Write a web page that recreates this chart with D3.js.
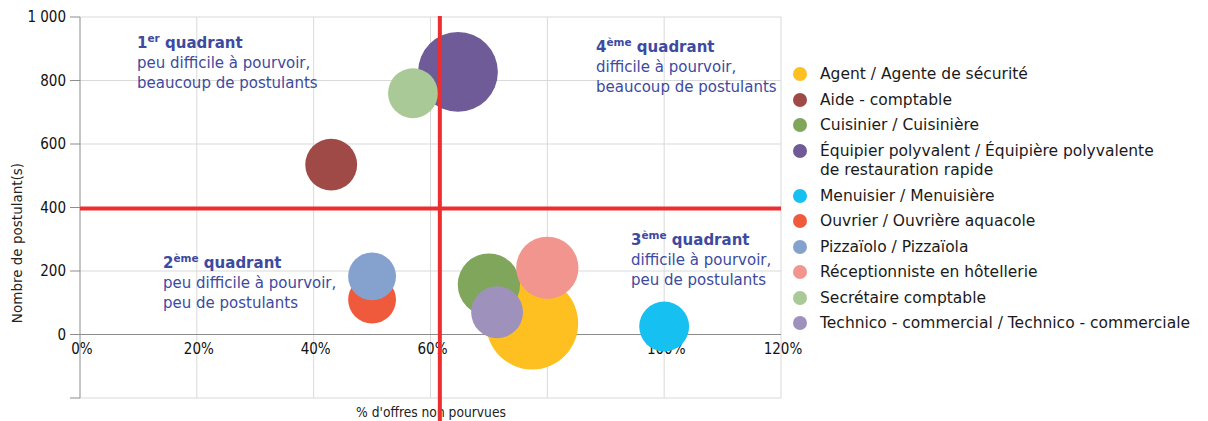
<!DOCTYPE html>
<html lang="fr">

<head>
    <meta charset="UTF-8">
    <script src="https://d3js.org/d3.v7.min.js"></script>
    <title>Métiers en tension</title>
    <style>
        body { margin: 0; background: #fff; }
        svg { display: block; }
        .grid line { stroke: #d9d9d9; stroke-width: 1; }
        .tick-label { font-family: "DejaVu Sans Condensed", "Liberation Sans Narrow", sans-serif; font-stretch: condensed; font-size: 15px; fill: #111; }
        .axis-title { font-family: "DejaVu Sans", sans-serif; font-size: 13.5px; fill: #222; }
        .x-title { font-family: "DejaVu Sans Condensed", sans-serif; font-stretch: condensed; font-size: 13.7px; fill: #222; }
        .legend text { font-family: "DejaVu Sans", sans-serif; font-size: 15.5px; fill: #1a1a1a; }
        .quadrant { font-family: "DejaVu Sans", sans-serif; font-size: 15px; fill: #3d4aa0; }
    </style>
</head>

<body>
    <div id="chart"></div>
    <script>
        // Data
        const metiers = [
            "Agent / Agente de sécurité",
            "Aide - comptable",
            "Cuisinier / Cuisinière",
            "Équipier polyvalent / Équipière polyvalente|de restauration rapide",
            "Menuisier / Menuisière",
            "Ouvrier / Ouvrière aquacole",
            "Pizzaïolo / Pizzaïola",
            "Réceptionniste en hôtellerie",
            "Secrétaire comptable",
            "Technico - commercial / Technico - commerciale"
        ];
        const tauxNonPourvues = [0.774, 0.43, 0.70, 0.647, 1.00, 0.50, 0.50, 0.80, 0.57, 0.714];
        const postulants = [35, 535, 157, 827, 25, 110, 183, 210, 760, 70];
        const offres = [85, 27, 39, 64, 25, 23, 23, 39, 25, 27];
        const couleurs = ["#fdc020", "#a04a48", "#7fa65a", "#6f5b98", "#16c0f0",
            "#f05a3c", "#85a2ce", "#f3958f", "#a9ca96", "#9e92bc"];

        const xTicks = [0, 0.2, 0.4, 0.6, 0.8, 1.0, 1.2];
        const yTicks = [0, 200, 400, 600, 800, 1000];
        const seuilTaux = 0.616;
        const seuilPostulants = 397;

        const data = metiers.map((m, i) => ({
            nom: m, taux: tauxNonPourvues[i], post: postulants[i],
            offres: offres[i], couleur: couleurs[i], idx: i
        }));

        const width = 1208, height = 421;

        const svg = d3.select("#chart").append("svg")
            .attr("width", width)
            .attr("height", height);

        // Scales
        const x = d3.scaleLinear().domain([0, 1.2]).range([80, 781]);
        const y = d3.scaleLinear().domain([-200, 1000]).range([398, 17]);
        const r = d3.scaleSqrt().domain([0, d3.max(offres)]).range([0, 46]);

        // Gridlines
        const grid = svg.append("g").attr("class", "grid");
        grid.selectAll(".gx")
            .data(xTicks.slice(1))
            .join("line")
            .attr("x1", d => x(d)).attr("x2", d => x(d))
            .attr("y1", y(1000)).attr("y2", y(-200));
        grid.selectAll(".gy")
            .data(yTicks.slice(1))
            .join("line")
            .attr("x1", x(0)).attr("x2", x(1.2))
            .attr("y1", d => y(d)).attr("y2", d => y(d));
        grid.append("line")
            .attr("x1", x(0)).attr("x2", x(1.2))
            .attr("y1", y(-200)).attr("y2", y(-200))
            .attr("stroke", "#c8c8c8");

        // Axes
        svg.append("line")
            .attr("x1", x(0)).attr("x2", x(0))
            .attr("y1", y(1000)).attr("y2", y(-200))
            .attr("stroke", "#8c8c8c");
        svg.append("line")
            .attr("x1", x(0)).attr("x2", x(1.2))
            .attr("y1", y(0)).attr("y2", y(0))
            .attr("stroke", "#8c8c8c");
        svg.selectAll(".ytick")
            .data([-200, ...yTicks])
            .join("line")
            .attr("x1", x(0) - 10).attr("x2", x(0))
            .attr("y1", d => y(d)).attr("y2", d => y(d))
            .attr("stroke", "#8c8c8c");

        const fmtY = d => d3.format(",")(d).replace(",", " ");
        svg.selectAll(".ylab")
            .data(yTicks)
            .join("text")
            .attr("class", "tick-label")
            .attr("x", 66)
            .attr("y", d => y(d))
            .attr("dy", "0.36em")
            .attr("text-anchor", "end")
            .text(fmtY);

        svg.selectAll(".xlab")
            .data(xTicks)
            .join("text")
            .attr("class", "tick-label")
            .attr("x", d => x(d) + 2)
            .attr("y", y(0) + 14)
            .attr("dy", "0.36em")
            .attr("text-anchor", "middle")
            .text(d3.format(".0%"));

        // Axis titles
        svg.append("text")
            .attr("class", "axis-title")
            .attr("transform", `translate(22,${243}) rotate(-90)`)
            .attr("text-anchor", "middle")
            .text("Nombre de postulant(s)");
        svg.append("text")
            .attr("class", "x-title")
            .attr("x", 431)
            .attr("y", 417)
            .attr("text-anchor", "middle")
            .text("% d'offres non pourvues");

        // Bubbles, largest first
        const sorted = data.slice().sort((a, b) => d3.descending(a.offres, b.offres) || a.idx - b.idx);
        svg.append("g")
            .selectAll("circle")
            .data(sorted)
            .join("circle")
            .attr("cx", d => x(d.taux))
            .attr("cy", d => y(d.post))
            .attr("r", d => r(d.offres))
            .attr("fill", d => d.couleur);

        // Quadrant lines
        svg.append("line")
            .attr("x1", x(0)).attr("x2", x(1.2))
            .attr("y1", y(seuilPostulants)).attr("y2", y(seuilPostulants))
            .attr("stroke", "#ee2e2e").attr("stroke-width", 4);
        svg.append("line")
            .attr("x1", x(seuilTaux)).attr("x2", x(seuilTaux))
            .attr("y1", y(1000) - 1).attr("y2", height)
            .attr("stroke", "#ee2e2e").attr("stroke-width", 4);

        // Quadrant labels
        const quadrants = [
            { n: "1", sup: "er", l1: "peu difficile à pourvoir,", l2: "beaucoup de postulants", x: 137, y: 48 },
            { n: "2", sup: "ème", l1: "peu difficile à pourvoir,", l2: "peu de postulants", x: 163, y: 268 },
            { n: "3", sup: "ème", l1: "difficile à pourvoir,", l2: "peu de postulants", x: 631, y: 245 },
            { n: "4", sup: "ème", l1: "difficile à pourvoir,", l2: "beaucoup de postulants", x: 596, y: 52 }
        ];
        quadrants.forEach(q => {
            const t = svg.append("text").attr("class", "quadrant").attr("x", q.x).attr("y", q.y);
            t.append("tspan").attr("font-weight", 700).text(q.n);
            t.append("tspan").attr("font-weight", 700).attr("font-size", 10.5).attr("dy", -6).text(q.sup);
            t.append("tspan").attr("font-weight", 700).attr("dy", 6).text(" quadrant");
            t.append("tspan").attr("x", q.x).attr("dy", 20).text(q.l1);
            t.append("tspan").attr("x", q.x).attr("dy", 20).text(q.l2);
        });

        // Legend
        const legendY = [74, 100, 125, 151, 196, 221, 247, 272, 298, 323];
        const legend = svg.append("g").attr("class", "legend");
        const items = legend.selectAll("g")
            .data(data)
            .join("g")
            .attr("transform", (d, i) => `translate(800,${legendY[i]})`);
        items.append("circle")
            .attr("r", 7)
            .attr("fill", d => d.couleur);
        items.append("text")
            .attr("x", 20)
            .each(function (d) {
                const lines = d.nom.split("|");
                const t = d3.select(this);
                lines.forEach((l, j) => {
                    t.append("tspan").attr("x", 20).attr("dy", j === 0 ? "0.35em" : 19).text(l);
                });
            });
    </script>
</body>

</html>
